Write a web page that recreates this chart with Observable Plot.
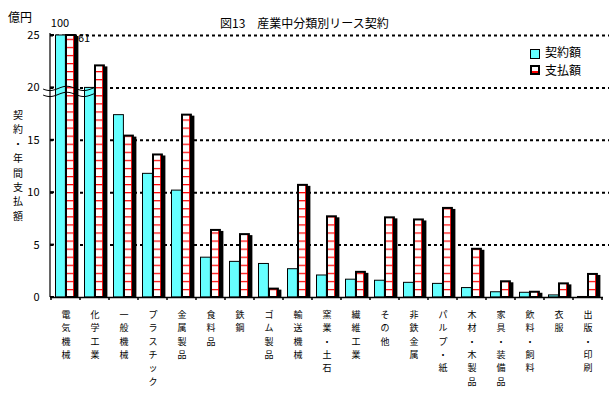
<!DOCTYPE html>
<html><head><meta charset="utf-8">
<script src="https://cdn.jsdelivr.net/npm/d3@7"></script>
<script src="https://cdn.jsdelivr.net/npm/@observablehq/plot@0.6"></script>
<style>
body{margin:0;background:#fff;}
#wrap{position:relative;width:610px;height:396px;font-family:"Noto Sans CJK JP",sans-serif;color:#000;overflow:hidden;}
#wrap svg{position:absolute;left:0;top:0;}
.abs{position:absolute;white-space:pre;line-height:1;}
</style></head><body>
<div id="wrap"></div>
<script>
const categories = ["電気機械","化学工業","一般機械","プラスチック","金属製品","食料品","鉄鋼","ゴム製品","輸送機械","窯業・土石","繊維工業","その他","非鉄金属","パルプ・紙","木材・木製品","家具・装備品","飲料・飼料","衣服","出版・印刷"];
const contract = [100, 20.0, 17.4, 11.8, 10.2, 3.8, 3.4, 3.2, 2.7, 2.1, 1.7, 1.6, 1.4, 1.3, 0.9, 0.5, 0.45, 0.2, 0.05];
const payment  = [61, 22.1, 15.4, 13.6, 17.4, 6.4, 6.0, 0.8, 10.7, 7.7, 2.4, 7.6, 7.4, 8.5, 4.6, 1.5, 0.5, 1.3, 2.2];
const yTicks = [0, 5, 10, 15, 20, 25];
const yMax = 25;
const breakValue = 20;
const title = "図13　産業中分類別リース契約";
const unitLabel = "億円";
const yTitle = "契約・年間支払額";
const seriesNames = ["契約額", "支払額"];

const rows = categories.map((c, i) => ({cat: c, contract: contract[i], payment: payment[i]}));
const W = 610, H = 396, mL = 50, mR = 7, mT = 35, mB = 99;
const step = (W - mL - mR) / categories.length;
const FONT = '"Noto Sans CJK JP", sans-serif';

const chart = Plot.plot({
  width: W, height: H, marginLeft: mL, marginRight: mR, marginTop: mT, marginBottom: mB,
  style: {fontFamily: FONT, fontSize: "11px", background: "transparent", overflow: "visible", color: "#000"},
  x: {domain: categories, padding: 0, axis: null},
  y: {domain: [0, yMax], clamp: true, ticks: yTicks, tickSize: 0, tickPadding: 11, label: null},
  marks: [
    Plot.ruleY(yTicks.filter(d => d > 0), {stroke: "#000", strokeWidth: 2, strokeDasharray: "3,3", insetRight: -6}),
    Plot.barY(rows, {x: "cat", y: "contract", fill: "#66ffff", stroke: "#000", strokeWidth: 1, insetLeft: 4.5, insetRight: step - 14.5}),
    Plot.barY(rows, {x: "cat", y: "payment", fill: "#000", insetLeft: 17, insetRight: step - 27.5, insetTop: 1}),
    Plot.barY(rows, {x: "cat", y: "payment", fill: "#fff", insetLeft: 15, insetRight: step - 24}),
    Plot.barY(rows, {x: "cat", y: "payment", fill: "url(#hatch)", insetLeft: 15, insetRight: step - 24}),
    Plot.barY(rows, {x: "cat", y: "payment", fill: "#ff0000", insetLeft: 22, insetRight: step - 23}),
    Plot.barY(rows, {x: "cat", y: "payment", fill: "none", stroke: "#000", strokeWidth: 2, insetLeft: 15, insetRight: step - 24}),
    Plot.ruleY([0], {stroke: "#000", strokeWidth: 1.5}),
    Plot.text(rows.filter(d => d.contract > yMax), {x: "cat", y: yMax, text: d => String(d.contract), dx: -6, dy: -12, fontSize: 11}),
    Plot.text(rows.filter(d => d.payment > yMax), {x: "cat", y: yMax, text: d => String(d.payment), dx: 18, dy: 3, fontSize: 11}),
    Plot.text(rows, {x: "cat", text: d => [...d.cat].join("\n"), frameAnchor: "bottom", lineAnchor: "top", dy: 11, lineHeight: 1.48, fontSize: 9})
  ]
});

const wrap = document.getElementById("wrap");
wrap.appendChild(chart);

const svg = d3.select(chart);
const xs = chart.scale("x"), ys = chart.scale("y");
const y0 = ys.apply(0);
const defs = svg.insert("defs", ":first-child");
const pat = defs.append("pattern").attr("id", "hatch").attr("patternUnits", "userSpaceOnUse")
  .attr("x", 0).attr("y", y0).attr("width", 10).attr("height", 8.07);
pat.append("rect").attr("x", 0).attr("y", 0).attr("width", 10).attr("height", 1.2).attr("fill", "#ff0000");

const g = svg.append("g").attr("stroke", "#000").attr("fill", "none");
g.append("line").attr("x1", mL).attr("x2", mL).attr("y1", y0).attr("y2", ys.apply(yMax) - 2).attr("stroke-width", 1.2);
yTicks.forEach(t => g.append("line").attr("x1", mL).attr("x2", mL + 4).attr("y1", ys.apply(t)).attr("y2", ys.apply(t)).attr("stroke-width", 2));
categories.forEach(c => {
  const x = xs.apply(c);
  g.append("line").attr("x1", x).attr("x2", x).attr("y1", y0).attr("y2", y0 + 3).attr("stroke-width", 1.5);
});
{
  const xe = xs.apply(categories[categories.length - 1]) + xs.bandwidth;
  g.append("line").attr("x1", xe).attr("x2", xe).attr("y1", y0).attr("y2", y0 + 3).attr("stroke-width", 1.5);
}
// break marks at the axis break value
{
  const xa = xs.apply(categories[0]) - 8;
  const xb = xs.apply(categories[1]) + 16;
  const yb = ys.apply(breakValue);
  const line = d3.line().curve(d3.curveBasis);
  [1, 7].forEach(off => {
    const pts = d3.range(xa, xb + 0.1, 2).map(x => [x, yb + off + 2.2 * Math.sin((x - xa) / 34 * 2 * Math.PI + 0.3)]);
    g.append("path").attr("d", line(pts)).attr("stroke-width", 1);
  });
}

function addText(txt, css) {
  const d = document.createElement("div");
  d.className = "abs";
  d.textContent = txt;
  Object.assign(d.style, css);
  wrap.appendChild(d);
  return d;
}
addText(title, {left: "220px", top: "17px", fontSize: "12px"});
addText(unitLabel, {left: "8px", top: "11px", fontSize: "12px"});
addText([...yTitle].join("\n"), {left: "8px", top: "108px", width: "20px", textAlign: "center", fontSize: "10px", lineHeight: "14.4px"});

// legend
const sw1 = document.createElement("div");
Object.assign(sw1.style, {position: "absolute", left: "530px", top: "49px", width: "8px", height: "8px", background: "#66ffff", border: "1px solid #000"});
wrap.appendChild(sw1);
const sw2 = document.createElement("div");
Object.assign(sw2.style, {position: "absolute", left: "530px", top: "65px", width: "6px", height: "6px", background: "linear-gradient(to top,#ff0000 0,#ff0000 1.5px,#fff 1.5px)", border: "2px solid #000"});
wrap.appendChild(sw2);
addText(seriesNames[0], {left: "545px", top: "46px", fontSize: "12px"});
addText(seriesNames[1], {left: "545px", top: "64px", fontSize: "12px"});
</script>
</body></html>
